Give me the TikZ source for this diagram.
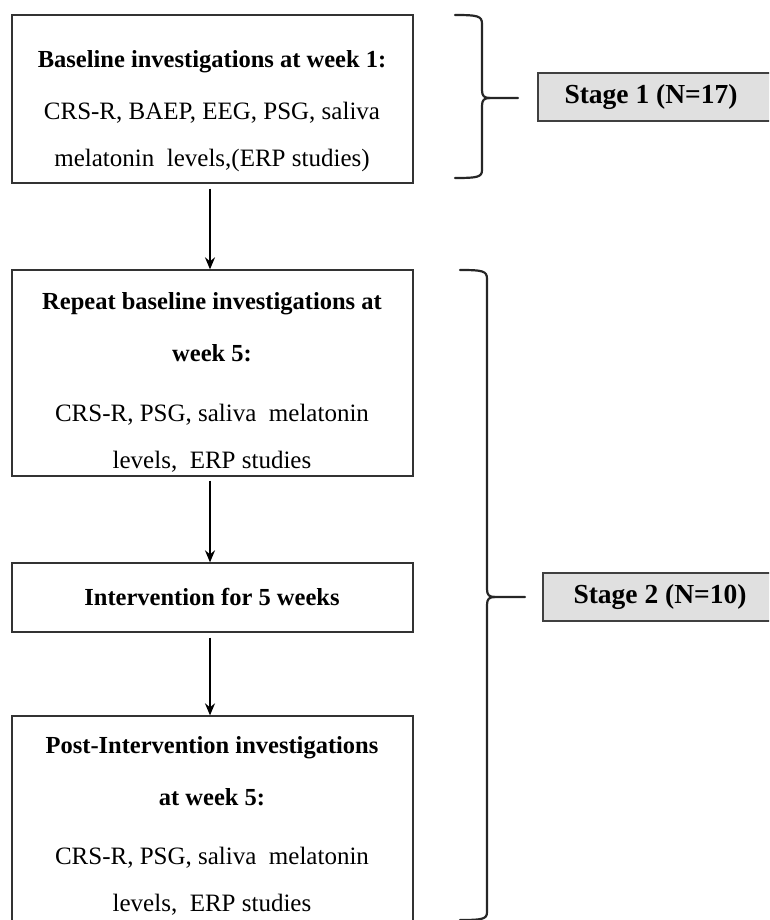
\documentclass[tikz,border=0pt]{standalone}
\usepackage{fontspec}
\setmainfont{Liberation Serif}
\usetikzlibrary{arrows.meta}
\tikzset{
  flowbox/.style={draw=black!80, line width=1.3pt, rectangle, inner sep=0pt},
  stagebox/.style={draw=black!75, fill=black!12, line width=1.3pt, rectangle, inner sep=0pt, minimum height=48pt, minimum width=234pt},
  boldline/.style={inner sep=0pt, font=\fontsize{24.5}{24.5}\selectfont\bfseries},
  normline/.style={inner sep=0pt, font=\fontsize{25}{25}\selectfont},
  stagetext/.style={inner sep=0pt, font=\fontsize{27.5}{27.5}\selectfont\bfseries},
  flowarrow/.style={line width=1.6pt, -{Stealth[length=12pt,width=10pt]}},
  bracepath/.style={line width=2.2pt, black!85, line cap=round}
}
\begin{document}
\begin{tikzpicture}[x=1pt,y=-1pt]
\useasboundingbox (0,0) rectangle (769,920);
\clip (0,0) rectangle (769,920);
% boxes
\node[flowbox, minimum width=401pt, minimum height=168pt] (b1) at (212.5,99) {};
\node[flowbox, minimum width=401pt, minimum height=206pt] (b2) at (212.5,373) {};
\node[flowbox, minimum width=401pt, minimum height=69pt] (b3) at (212.5,597.5) {};
\node[flowbox, minimum width=401pt, minimum height=224pt] (b4) at (212.5,828) {};
% texts box 1
\node[boldline] (t11) at (212,62) {Baseline investigations at week 1:};
\node[normline] (t12) at (212,113) {CRS-R, BAEP, EEG, PSG, saliva};
\node[normline] (t13) at (212,160) {melatonin\ \ levels,(ERP studies)};
% texts box 2
\node[boldline] (t21) at (212,304) {Repeat baseline investigations at};
\node[boldline] (t22) at (212,353) {week 5:};
\node[normline] (t23) at (212,415) {CRS-R, PSG, saliva\ \ melatonin};
\node[normline] (t24) at (212,462) {levels,\ \ ERP studies};
% box 3
\node[boldline] (t31) at (212,597) {Intervention for 5 weeks};
% box 4
\node[boldline] (t41) at (212,748) {Post-Intervention investigations};
\node[boldline] (t42) at (212,797) {at week 5:};
\node[normline] (t43) at (212,858) {CRS-R, PSG, saliva\ \ melatonin};
\node[normline] (t44) at (212,905) {levels,\ \ ERP studies};
% arrows
\draw[flowarrow] (b1.south -| 210,0) ++(0,5) -- (b2.north -| 210,0);
\draw[flowarrow] (b2.south -| 210,0) ++(0,4) -- (b3.north -| 210,0);
\draw[flowarrow] (b3.south -| 210,0) ++(0,5) -- (b4.north -| 210,0);
% stage boxes
\node[stagebox] (s1) at (655,97) {};
\node[stagetext] (s1t) at (651,97) {Stage 1 (N=17)};
\node[stagebox] (s2) at (660,597) {};
\node[stagetext] (s2t) at (660,597) {Stage 2 (N=10)};
% braces
\draw[bracepath] (455,15) .. controls (478,15) and (482,16) .. (482,24) -- (482,90)
   .. controls (482,96) and (484,98) .. (490,98) -- (518,98);
\draw[bracepath] (455,178) .. controls (478,178) and (482,177) .. (482,170) -- (482,106)
   .. controls (482,100) and (484,98) .. (490,98);
\draw[bracepath] (460,270) .. controls (483,270) and (487,271) .. (487,279) -- (487,589)
   .. controls (487,595) and (489,597) .. (495,597) -- (525,597);
\draw[bracepath] (460,920) .. controls (483,920) and (487,919) .. (487,912) -- (487,605)
   .. controls (487,599) and (489,597) .. (495,597);
\end{tikzpicture}
\end{document}
